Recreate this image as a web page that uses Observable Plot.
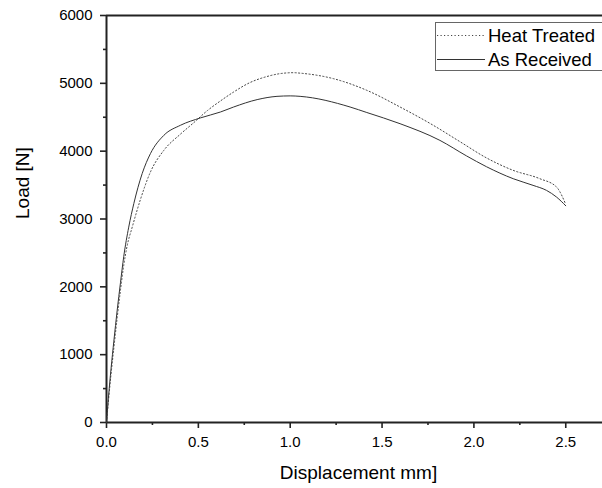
<!DOCTYPE html>
<html>
<head>
<meta charset="utf-8">
<script src="https://cdn.jsdelivr.net/npm/d3@7"></script>
<script src="https://cdn.jsdelivr.net/npm/@observablehq/plot@0.6"></script>
<style>
  html, body { margin: 0; padding: 0; background: white; }
  #chart { position: relative; width: 602px; height: 488px; overflow: hidden; font-family: "Liberation Sans", Arial, sans-serif; }
  #legend { position: absolute; left: 0; top: 0; pointer-events: none; }
</style>
</head>
<body>
<div id="chart"></div>
<script>
// ---- data ----
const asReceivedX = [0, 0.01, 0.025, 0.04, 0.058, 0.076, 0.094, 0.121, 0.149, 0.194, 0.239, 0.312, 0.402, 0.511, 0.62, 0.692, 0.82, 0.928, 1.0, 1.054, 1.326, 1.417, 1.598, 1.815, 1.96, 2.069, 2.214, 2.322, 2.395, 2.45, 2.5];
const asReceivedY = [0, 350, 800, 1200, 1650, 2060, 2450, 2880, 3230, 3668, 3963, 4233, 4381, 4490, 4577, 4651, 4760, 4808, 4815, 4808, 4651, 4570, 4405, 4159, 3930, 3770, 3594, 3496, 3422, 3323, 3195];

const heatTreatedX = [0, 0.01, 0.025, 0.04, 0.058, 0.076, 0.094, 0.112, 0.14, 0.185, 0.239, 0.312, 0.402, 0.475, 0.55, 0.62, 0.692, 0.78, 0.873, 0.95, 1.018, 1.054, 1.235, 1.417, 1.598, 1.779, 1.924, 2.069, 2.214, 2.359, 2.45, 2.5];
const heatTreatedY = [0, 300, 720, 1100, 1540, 1950, 2320, 2600, 2880, 3290, 3692, 4012, 4250, 4420, 4600, 4740, 4872, 5010, 5100, 5145, 5157, 5150, 5069, 4897, 4651, 4381, 4140, 3900, 3717, 3594, 3471, 3215];

const seriesNames = ["Heat Treated", "As Received"];
const xMajorTicks = [0, 0.5, 1.0, 1.5, 2.0, 2.5];
const xMinorTicks = [0.25, 0.75, 1.25, 1.75, 2.25];
const yMajorTicks = [0, 1000, 2000, 3000, 4000, 5000, 6000];
const yMinorTicks = [500, 1500, 2500, 3500, 4500, 5500];
const xTitle = "Displacement mm]";
const yTitle = "Load [N]";

const asReceived = asReceivedX.map((x, i) => ({x, y: asReceivedY[i]}));
const heatTreated = heatTreatedX.map((x, i) => ({x, y: heatTreatedY[i]}));

const ink = "#222";
const plot = Plot.plot({
  width: 602,
  height: 488,
  marginLeft: 106,
  marginRight: 0,
  marginTop: 15,
  marginBottom: 66,
  x: {domain: [0, 2.7]},
  y: {domain: [0, 6000]},
  style: {fontFamily: "'Liberation Sans', Arial, sans-serif", color: "black", background: "white"},
  marks: [
    Plot.axisX({ticks: xMajorTicks, tickSize: 6, tickPadding: 8, tickFormat: d => d.toFixed(1), fontSize: 15, label: null, stroke: ink, strokeWidth: 1.6}),
    Plot.axisX({ticks: xMinorTicks, tickSize: 3, text: null, label: null, stroke: ink, strokeWidth: 1.6}),
    Plot.axisY({ticks: yMajorTicks, tickSize: 6, tickPadding: 8, tickFormat: d => String(d), fontSize: 15, label: null, stroke: ink, strokeWidth: 1.6}),
    Plot.axisY({ticks: yMinorTicks, tickSize: 3, text: null, label: null, stroke: ink, strokeWidth: 1.6}),
    Plot.ruleX([0], {stroke: ink, strokeWidth: 2}),
    Plot.ruleY([0], {stroke: ink, strokeWidth: 2}),
    Plot.ruleY([6000], {stroke: ink, strokeWidth: 2}),
    Plot.line(heatTreated, {x: "x", y: "y", curve: "monotone-x", stroke: "#444", strokeWidth: 1, strokeDasharray: "1.2,2.3"}),
    Plot.line(asReceived, {x: "x", y: "y", curve: "monotone-x", stroke: "#333", strokeWidth: 1}),
    Plot.text([xTitle], {frameAnchor: "bottom", dy: 50.5, dx: 4, fontSize: 19, lineAnchor: "middle", fill: "black"}),
    Plot.text([yTitle], {frameAnchor: "left", dx: -83.5, rotate: -90, fontSize: 19, lineAnchor: "middle", fill: "black"})
  ]
});

const chart = document.getElementById("chart");
chart.appendChild(plot);

// legend overlay
const NS = "http://www.w3.org/2000/svg";
const leg = document.createElementNS(NS, "svg");
leg.setAttribute("id", "legend");
leg.setAttribute("width", 602);
leg.setAttribute("height", 488);
const box = document.createElementNS(NS, "rect");
box.setAttribute("x", 435.5); box.setAttribute("y", 22.5);
box.setAttribute("width", 200); box.setAttribute("height", 48);
box.setAttribute("fill", "white"); box.setAttribute("stroke", "#666"); box.setAttribute("stroke-width", 1);
leg.appendChild(box);
const styles = [{dash: "1.2,2.3", stroke: "#444"}, {dash: null, stroke: "#333"}];
const lineY = [35.5, 59.5];
const textY = [41.5, 65.5];
seriesNames.forEach((name, i) => {
  const l = document.createElementNS(NS, "line");
  l.setAttribute("x1", 437); l.setAttribute("x2", 485);
  l.setAttribute("y1", lineY[i]); l.setAttribute("y2", lineY[i]);
  l.setAttribute("stroke", styles[i].stroke); l.setAttribute("stroke-width", 1);
  if (styles[i].dash) l.setAttribute("stroke-dasharray", styles[i].dash);
  leg.appendChild(l);
  const t = document.createElementNS(NS, "text");
  t.setAttribute("x", 488); t.setAttribute("y", textY[i]);
  t.setAttribute("font-size", 18.5);
  t.setAttribute("font-family", "'Liberation Sans', Arial, sans-serif");
  t.setAttribute("fill", "black");
  t.textContent = name;
  leg.appendChild(t);
});
chart.appendChild(leg);
</script>
</body>
</html>
